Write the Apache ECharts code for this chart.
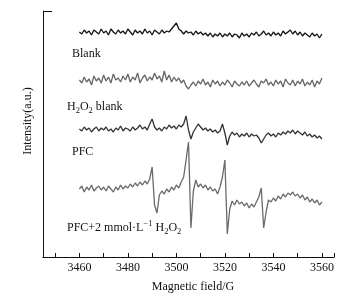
<!DOCTYPE html>
<html>
<head>
<meta charset="utf-8">
<script src="https://cdn.jsdelivr.net/npm/echarts@6/dist/echarts.min.js"></script>
<style>
  html, body { margin: 0; padding: 0; background: #fff; }
  #chart { width: 361px; height: 300px; }
</style>
</head>
<body>
<div id="chart"></div>
<script>
/* ── data (y = stacked offset, a.u.) ── */
const FIELD_START = 3460; // G, 1 G per sample, 101 samples

const blank = [
  225, 223, 227, 224, 226, 222, 227, 225, 223, 228,
  224, 226, 222, 228, 225, 223, 227, 224, 226, 223,
  228, 225, 222, 227, 224, 226, 223, 228, 224, 226,
  222, 227, 225, 223, 227, 224, 226, 225, 228, 231,
  234, 228, 226, 223, 226, 224, 225, 222, 226, 223,
  225, 222, 224, 221, 224, 220, 223, 221, 224, 220,
  223, 221, 224, 220, 223, 222, 219, 224, 221, 223,
  220, 224, 222, 225, 221, 223, 226, 222, 224, 221,
  225, 222, 224, 221, 226, 223, 225, 227, 223, 226,
  222, 225, 221, 224, 222, 220, 224, 221, 223, 219, 223,
];

const h2o2Blank = [
  177, 174, 180, 175, 178, 172, 181, 176, 179, 174,
  182, 176, 180, 174, 183, 177, 179, 175, 181, 177,
  183, 175, 180, 177, 184, 174, 179, 182, 176, 180,
  177, 184, 178, 181, 175, 186, 177, 182, 175, 180,
  176, 179, 174, 177, 171, 168, 172, 175, 171, 176,
  173, 178, 172, 175, 170, 177, 173, 176, 171, 175,
  172, 177, 174, 170, 176, 173, 171, 175, 172, 176,
  171, 174, 177, 173, 170, 176, 174, 178, 172, 175,
  171, 177, 173, 176, 170, 178, 174, 172, 177, 171,
  176, 173, 178, 171, 175, 172, 177, 170, 176, 173, 179,
];

const pfc = [
  128, 126, 130, 127, 129, 125, 128, 130, 126, 129,
  127, 130, 126, 128, 125, 129, 127, 131, 126, 129,
  128, 126, 130, 127, 129, 132, 128, 130, 127, 133,
  138, 130, 127, 129, 126, 130, 128, 132, 129, 131,
  128, 132, 130, 133, 141, 127, 118, 125, 129, 133,
  130, 127, 129, 126, 128, 125, 127, 124, 126, 133,
  124, 112, 121, 125, 122, 124, 120, 123, 121, 124,
  120, 123, 121, 122, 119, 114, 118, 122, 124, 121,
  123, 120, 124, 122, 125, 123, 126, 124, 127, 123,
  126, 124, 122, 125, 121, 123, 120, 122, 119, 121, 118,
];

const pfcH2o2 = [
  68, 71, 65, 70, 67, 72, 66, 69, 71, 67,
  70, 66, 71, 68, 65, 70, 67, 72, 68, 71,
  69, 73, 70, 74, 71, 75, 72, 76, 73, 78,
  90, 52, 44, 62, 66, 63, 68, 65, 70, 67,
  72, 69, 75, 80, 97, 115, 29, 66, 77, 70,
  73, 69, 72, 67, 70, 66, 68, 63, 70, 80,
  97, 23, 48, 56, 52, 57, 53, 55, 51, 54,
  49, 53, 50, 55, 60, 69, 29, 45, 57, 55,
  59, 56, 61, 58, 63, 60, 64, 62, 65, 61,
  63, 59, 62, 57, 60, 55, 58, 54, 57, 52, 55,
];

const xTicks = [3450, 3460, 3470, 3480, 3490, 3500, 3510, 3520, 3530, 3540, 3550, 3560, 3565];
const xLabels = [3460, 3480, 3500, 3520, 3540, 3560];

const FONT = '"Liberation Serif", "Times New Roman", serif';

const toPoints = (arr) => arr.map((v, i) => [FIELD_START + i, v]);

const chart = echarts.init(document.getElementById('chart'), null, { renderer: 'canvas' });

const lineSeries = (name, arr, color) => ({
  name,
  type: 'line',
  data: toPoints(arr),
  showSymbol: false,
  symbol: 'none',
  lineStyle: { color, width: 1.3 },
  animation: false,
});

// rich text styles for sub/superscripts
const rich = {
  n: { fontSize: 12, fontFamily: FONT, fill: '#111', lineHeight: 17 },
  s: { fontSize: 8.5, fontFamily: FONT, fill: '#111', lineHeight: 17, verticalAlign: 'bottom' },
  p: { fontSize: 8.5, fontFamily: FONT, fill: '#111', lineHeight: 17, verticalAlign: 'top' },
};

const label = (x, y, text) => ({
  type: 'text',
  x,
  y,
  style: { text, rich, font: `12px ${FONT}`, fill: '#111', verticalAlign: 'middle' },
});

chart.setOption({
  backgroundColor: '#fff',
  animation: false,
  grid: { left: 43, right: 27, top: 11, bottom: 43 },
  xAxis: {
    type: 'value',
    min: 3445,
    max: 3565,
    name: 'Magnetic field/G',
    nameLocation: 'middle',
    nameGap: 24,
    nameTextStyle: { fontFamily: FONT, fontSize: 12, color: '#111', padding: [0, 0, 0, 9] },
    axisLine: { lineStyle: { color: '#111', width: 1 } },
    axisTick: { inside: true, length: 4, customValues: xTicks, lineStyle: { color: '#111' } },
    axisLabel: {
      customValues: xLabels,
      formatter: (v) => String(v),
      fontFamily: FONT,
      fontSize: 12,
      color: '#111',
      margin: 5,
    },
    splitLine: { show: false },
  },
  yAxis: {
    type: 'value',
    min: 0,
    max: 246,
    axisLine: { show: true, lineStyle: { color: '#111', width: 1 } },
    axisTick: { show: true, inside: true, length: 9, customValues: [246], lineStyle: { color: '#111' } },
    axisLabel: { show: false },
    splitLine: { show: false },
  },
  graphic: [
    {
      type: 'text',
      x: 28,
      y: 121,
      rotation: Math.PI / 2,
      style: {
        text: 'Intensity(a.u.)',
        font: `12px ${FONT}`,
        fill: '#111',
        align: 'center',
        verticalAlign: 'middle',
      },
    },
    label(72, 54, '{n|Blank}'),
    label(67, 107, '{n|H}{s|2}{n|O}{s|2}{n| blank}'),
    label(72, 152, '{n|PFC}'),
    label(67, 228, '{n|PFC+2 mmol·L}{p|−1}{n| H}{s|2}{n|O}{s|2}'),
  ],
  series: [
    lineSeries('Blank', blank, '#151515'),
    lineSeries('H2O2 blank', h2o2Blank, '#666666'),
    lineSeries('PFC', pfc, '#333333'),
    lineSeries('PFC+2 mmol/L H2O2', pfcH2o2, '#6a6a6a'),
  ],
});
</script>
</body>
</html>
